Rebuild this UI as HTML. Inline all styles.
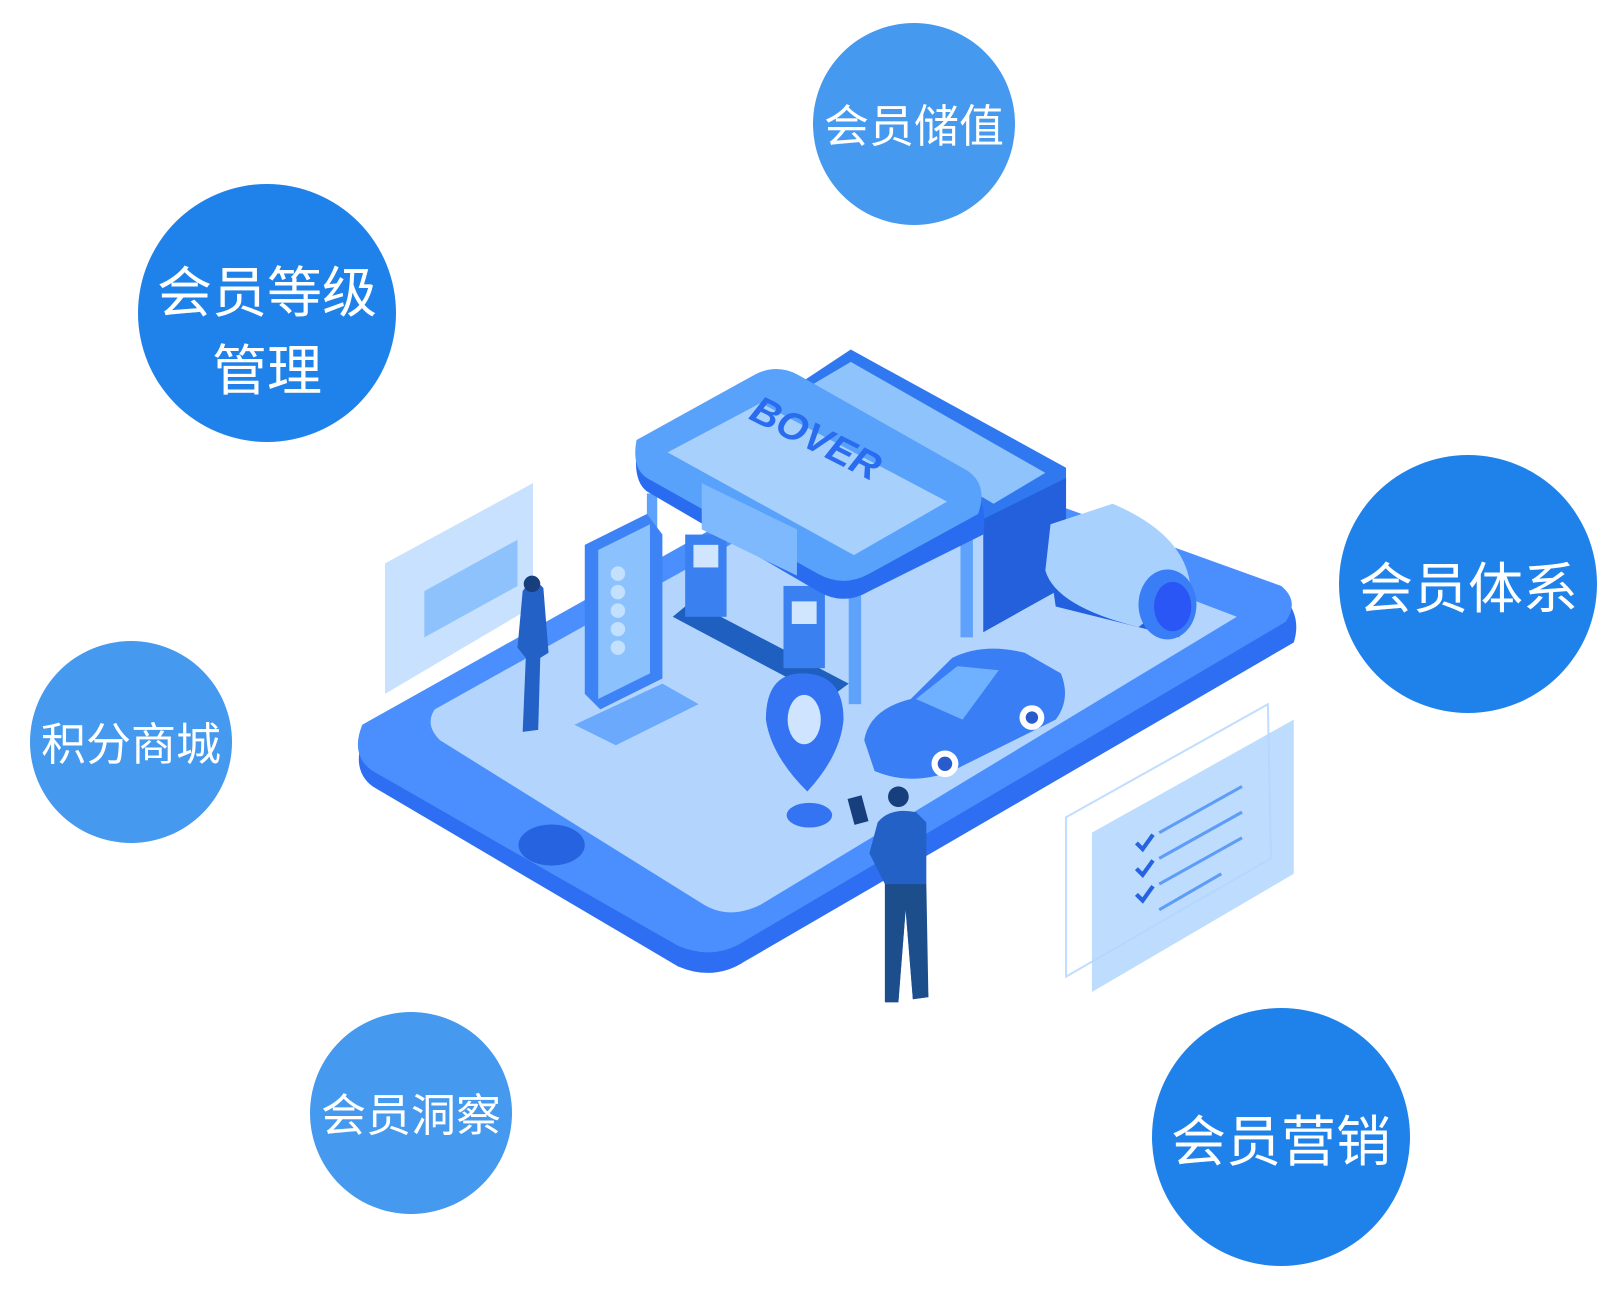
<!DOCTYPE html>
<html><head><meta charset="utf-8"><style>
html,body{margin:0;padding:0;background:#fff;}
body{width:1620px;height:1306px;position:relative;overflow:hidden;font-family:"Liberation Sans","Noto Sans CJK SC",sans-serif;}
.c{position:absolute;border-radius:50%;display:flex;align-items:center;justify-content:center;text-align:center;color:#fff;line-height:1.45;box-sizing:border-box;}
.l{background:#4599ee;width:202px;height:202px;font-size:45px;padding-top:6px;}
.d{background:#1f82ea;width:258px;height:258px;font-size:55px;padding-top:12px;}
svg{position:absolute;left:0;top:0;}
</style></head><body>
<svg width="1620" height="1306" viewBox="0 0 1620 1306">
<g transform="scale(1.035,1.028)">
 <path d="M350 720 L820 455 Q850 440 880 455 L1240 580 Q1258 600 1250 625 L720 935 Q690 955 655 940 L360 765 Q340 750 350 720Z" fill="#2d6ef2"/>
 <path d="M350 705 L820 440 Q850 425 880 440 L1238 570 Q1256 585 1242 605 L720 915 Q690 935 655 920 L360 750 Q338 735 350 705Z" fill="#4a8ffd"/>
 <path d="M420 690 L830 460 L1195 600 L735 880 Q705 895 680 880 L425 720 Q410 705 420 690Z" fill="#b3d5fd"/>
 <ellipse cx="533" cy="822" rx="32" ry="20" fill="#2563e0"/>
 <path d="M765 378 L822 340 L1030 455 L1030 470 L960 510 L765 398Z" fill="#2f78f0"/>
 <path d="M775 380 L822 352 L1010 460 L960 490Z" fill="#8fc3fc"/>
 <path d="M950 505 L1030 465 L1030 570 L950 615Z" fill="#2460dc"/>
 <path d="M1010 520 L1100 555 L1140 620 L1020 590Z" fill="#2360e0"/>
 <path d="M1015 510 L1075 490 Q1145 520 1150 570 L1100 610 Q1020 590 1010 555Z" fill="#a9d1fe"/>
 <ellipse cx="1128" cy="588" rx="28" ry="34" fill="#3a7ef7"/>
 <ellipse cx="1133" cy="590" rx="18" ry="24" fill="#2a56f5"/>
 <path d="M650 600 L800 680 L820 665 L668 585Z" fill="#1e5fbf"/>
 <rect x="662" y="520" width="40" height="80" fill="#3b80f0"/>
 <rect x="670" y="530" width="24" height="22" fill="#d0e6ff"/>
 <rect x="757" y="570" width="40" height="80" fill="#3b80f0"/>
 <rect x="765" y="585" width="24" height="22" fill="#d0e6ff"/>
 <rect x="820" y="560" width="12" height="125" fill="#5ea2fb"/>
 <rect x="928" y="520" width="12" height="100" fill="#5ea2fb"/>
 <rect x="625" y="480" width="10" height="70" fill="#5ea2fb"/>
 <path d="M615 440 L730 372 Q750 362 770 372 L935 470 Q955 485 950 520 L840 575 Q815 590 790 575 L625 478 Q612 468 615 440Z" fill="#2a6cf0"/>
 <path d="M615 428 L730 364 Q750 354 770 364 L935 458 Q955 472 945 500 L840 558 Q815 572 790 558 L625 465 Q610 455 615 428Z" fill="#58a2fb"/>
 <path d="M645 440 L735 392 L915 488 L825 540Z" fill="#a7d0fd"/>
 <text x="700" y="440" transform="rotate(27 780 470)" font-family="Liberation Sans" font-weight="bold" font-style="italic" font-size="38" fill="#2a6cf0">BOVER</text>
 <path d="M678 470 L770 515 L770 560 L678 515Z" fill="#7db9fc"/>
 <path d="M565 530 L625 500 L640 520 L640 660 L580 690 L565 675Z" fill="#3d83f5"/>
 <path d="M578 535 L628 510 L628 655 L578 680Z" fill="#8bc1fd"/>
 <g fill="#c4e0ff"><circle cx="597" cy="558" r="7"/><circle cx="597" cy="576" r="7"/><circle cx="597" cy="594" r="7"/><circle cx="597" cy="612" r="7"/><circle cx="597" cy="630" r="7"/></g>
 <path d="M555 705 L640 665 L675 685 L595 725Z" fill="#6aa9fb"/>
 <path d="M372 548 L515 470 L515 590 L372 675Z" fill="#b9dafe" opacity="0.8"/>
 <path d="M410 575 L500 525 L500 570 L410 620Z" fill="#8ec2fc"/>
 <path d="M505 575 Q515 560 525 572 L530 635 L522 640 L520 710 L505 712 L508 640 L500 630Z" fill="#2361c6"/>
 <circle cx="514" cy="568" r="8" fill="#173f7e"/>
 <path d="M775 655 Q815 655 815 700 Q812 735 780 770 Q745 735 740 700 Q740 655 775 655Z" fill="#3474f2"/>
 <ellipse cx="777" cy="700" rx="16" ry="24" fill="#cfe5ff"/>
 <ellipse cx="782" cy="793" rx="22" ry="12" fill="#3474f2"/>
 <path d="M835 720 Q840 690 880 680 L920 640 Q950 625 990 635 L1025 655 Q1035 680 1020 700 L920 750 Q880 765 845 750Z" fill="#3a7ef5"/>
 <path d="M885 680 L925 648 L965 652 L930 700Z" fill="#6fb0ff"/>
 <circle cx="913" cy="743" r="13" fill="#fff"/><circle cx="913" cy="743" r="7" fill="#2a5bcc"/>
 <circle cx="997" cy="698" r="12" fill="#fff"/><circle cx="997" cy="698" r="6" fill="#2a5bcc"/>
 <path d="M848 800 Q860 785 885 790 L895 800 L895 860 L890 865 L897 970 L882 972 L875 885 L868 975 L855 975 L855 860 L840 830 Z" fill="#2361c6"/>
 <path d="M855 860 L895 860 L897 970 L882 972 L875 885 L868 975 L855 975Z" fill="#1d4e8c"/>
 <circle cx="868" cy="775" r="10" fill="#173f7e"/>
 <rect x="822" y="775" width="14" height="26" fill="#173f7e" transform="rotate(-15 829 788)"/>
 <path d="M1030 795 L1225 685 L1228 835 L1030 950Z" fill="none" stroke="#c2defe" stroke-width="2"/>
 <path d="M1055 810 L1250 700 L1250 850 L1055 965Z" fill="#b3d6fe" opacity="0.85"/>
 <g stroke="#5d9df7" stroke-width="3"><line x1="1120" y1="810" x2="1200" y2="765"/><line x1="1120" y1="835" x2="1200" y2="790"/><line x1="1120" y1="860" x2="1200" y2="815"/><line x1="1120" y1="885" x2="1180" y2="850"/></g>
 <g stroke="#2563e0" stroke-width="4" fill="none"><path d="M1098 820 l6 6 l10 -14"/><path d="M1098 845 l6 6 l10 -14"/><path d="M1098 870 l6 6 l10 -14"/></g>
</g>
</svg>
<div class="c l" style="left:813px;top:23px;">会员储值</div>
<div class="c d" style="left:138px;top:184px;padding-top:38px;line-height:1.42;">会员等级<br>管理</div>
<div class="c l" style="left:30px;top:641px;">积分商城</div>
<div class="c l" style="left:310px;top:1012px;">会员洞察</div>
<div class="c d" style="left:1339px;top:455px;">会员体系</div>
<div class="c d" style="left:1152px;top:1008px;">会员营销</div>
</body></html>
